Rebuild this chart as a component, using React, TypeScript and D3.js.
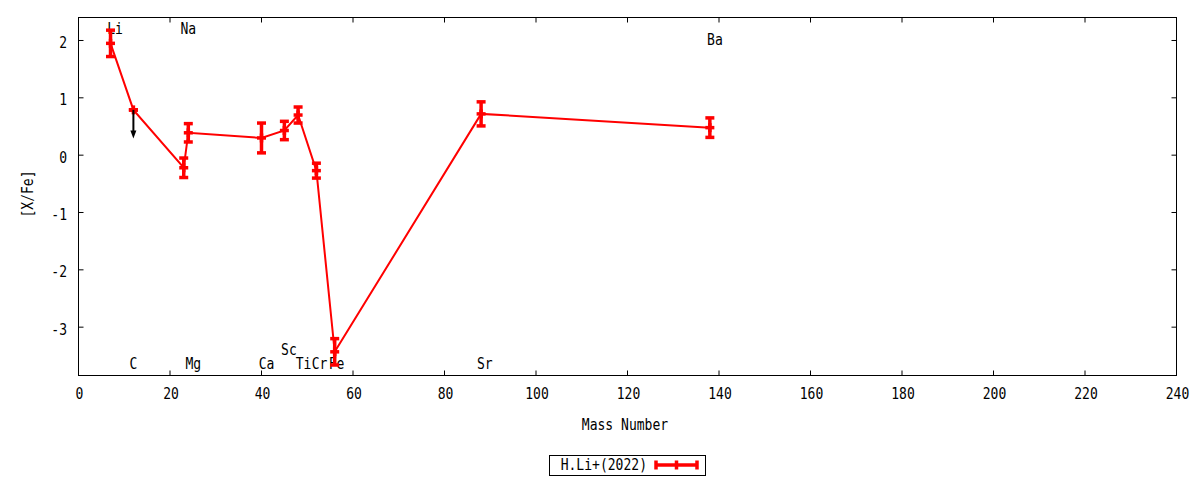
import React from 'react';
import { scaleLinear, line } from 'd3';

const elements = ['Li', 'C', 'Na', 'Mg', 'Ca', 'Sc', 'Ti', 'Cr', 'Fe', 'Sr', 'Ba'];
const massNumber = [7, 12, 23, 24, 40, 45, 48, 52, 56, 88, 138];
const xFe = [1.95, 0.79, -0.22, 0.39, 0.3, 0.43, 0.7, -0.27, -3.43, 0.72, 0.48];
const xFeErr = [0.23, 0, 0.17, 0.16, 0.26, 0.16, 0.14, 0.13, 0.23, 0.21, 0.17];
const upperLimits = ['C'];
const limitArrow = 0.5;

// element name labels (data coords)
const labelX = [8, 12, 24, 25.1, 41.1, 46, 49.2, 52.7, 56.4, 88.8, 139.1];
const labelY = [2.2, -3.65, 2.2, -3.65, -3.65, -3.4, -3.65, -3.65, -3.65, -3.65, 2.0];

const xTicks = [0, 20, 40, 60, 80, 100, 120, 140, 160, 180, 200, 220, 240];
const yTicks = [-3, -2, -1, 0, 1, 2];
const seriesName = 'H.Li+(2022)';

const W = 1200;
const H = 480;
const plot = { left: 78.5, right: 1176.5, top: 17.5, bottom: 375.5 };
const RED = '#ff0000';
const FONT = 'DejaVu Sans Mono';

const T: React.FC<{ x: number; y: number; anchor?: string; rotate?: number; children: React.ReactNode }> = ({
  x, y, anchor = 'middle', rotate = 0, children,
}) => (
  <text
    transform={`translate(${x},${y}) rotate(${rotate}) scale(0.87,1)`}
    textAnchor={anchor}
    fontFamily={FONT}
    fontSize={15}
    fill="#000"
  >
    {children}
  </text>
);

export default function App() {
  const x = scaleLinear().domain([0, 240]).range([plot.left, plot.right]);
  const y = scaleLinear().domain([-3.843, 2.401]).range([plot.bottom, plot.top]);

  const pts = massNumber.map((m, i) => [x(m), y(xFe[i])] as [number, number]);
  const path = line()(pts) as string;
  const tick = 5;
  const cap = 4.5;

  return (
    <svg width={W} height={H} style={{ position: 'absolute', left: 0, top: 0, background: '#fff' }}>
      <rect width={W} height={H} fill="#fff" />
      {/* ticks, mirrored inward */}
      <g stroke="#000" strokeWidth={1}>
        {xTicks.map((t) => (
          <g key={'xt' + t}>
            <line x1={x(t)} x2={x(t)} y1={plot.bottom} y2={plot.bottom - tick} />
            <line x1={x(t)} x2={x(t)} y1={plot.top} y2={plot.top + tick} />
          </g>
        ))}
        {yTicks.map((t) => (
          <g key={'yt' + t}>
            <line x1={plot.left} x2={plot.left + tick} y1={y(t)} y2={y(t)} />
            <line x1={plot.right} x2={plot.right - tick} y1={y(t)} y2={y(t)} />
          </g>
        ))}
      </g>
      {xTicks.map((t) => (
        <T key={'xl' + t} x={x(t) + 1} y={399}>{t}</T>
      ))}
      {yTicks.map((t) => (
        <T key={'yl' + t} x={67} y={y(t) + 7.5} anchor="end">{t}</T>
      ))}
      <T x={33} y={194} rotate={-90}>[X/Fe]</T>
      <T x={625} y={430}>Mass Number</T>

      {/* element labels */}
      {elements.map((e, i) => (
        <T key={'el' + e} x={x(labelX[i])} y={y(labelY[i]) + 5}>{e}</T>
      ))}

      {/* data */}
      <path d={path} fill="none" stroke={RED} strokeWidth={2} />
      <g stroke={RED} strokeWidth={3.5}>
        {massNumber.map((m, i) => {
          const cx = x(m);
          const y0 = y(xFe[i] - xFeErr[i]);
          const y1 = y(xFe[i] + xFeErr[i]);
          return (
            <g key={'eb' + i}>
              <line x1={cx} x2={cx} y1={y0} y2={y1} />
              <line x1={cx - cap} x2={cx + cap} y1={y0} y2={y0} />
              <line x1={cx - cap} x2={cx + cap} y1={y1} y2={y1} />
              <line x1={cx - cap} x2={cx + cap} y1={pts[i][1]} y2={pts[i][1]} />
              <line x1={cx} x2={cx} y1={pts[i][1] - cap} y2={pts[i][1] + cap} />
            </g>
          );
        })}
      </g>
      {/* upper limit arrows */}
      {elements.map((e, i) => {
        if (!upperLimits.includes(e)) return null;
        const cx = x(massNumber[i]);
        const ya = y(xFe[i]);
        const yb = y(xFe[i] - limitArrow);
        return (
          <g key={'ul' + e}>
            <line x1={cx} x2={cx} y1={ya} y2={yb - 6} stroke="#000" strokeWidth={2} />
            <path d={`M${cx - 3},${yb - 8}L${cx + 3},${yb - 8}L${cx},${yb}Z`} fill="#000" />
          </g>
        );
      })}

      {/* frame */}
      <rect x={plot.left} y={plot.top} width={plot.right - plot.left} height={plot.bottom - plot.top}
        fill="none" stroke="#000" strokeWidth={1} />

      {/* legend */}
      <rect x={549.5} y={455.5} width={156} height={20} fill="none" stroke="#000" strokeWidth={1} />
      <T x={647} y={470} anchor="end">{seriesName}</T>
      <g stroke={RED} strokeWidth={3.5}>
        <line x1={655} x2={698} y1={465} y2={465} />
        <line x1={656} x2={656} y1={460.5} y2={469.5} />
        <line x1={697} x2={697} y1={460.5} y2={469.5} />
        <line x1={676.5} x2={676.5} y1={460.5} y2={469.5} />
      </g>
    </svg>
  );
}
